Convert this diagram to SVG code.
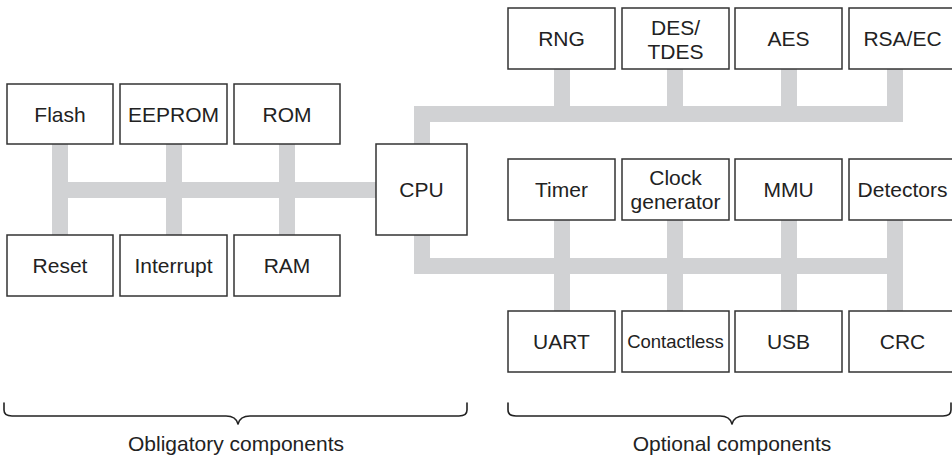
<svg xmlns="http://www.w3.org/2000/svg" width="952" height="461" viewBox="0 0 952 461">
<style>
  .bus{fill:none;stroke:#d1d2d4;stroke-width:16;stroke-linejoin:miter;stroke-linecap:butt}
  .box{fill:#fff;stroke:#333;stroke-width:1.5}
  .lbl{font-family:"Liberation Sans",Arial,sans-serif;font-size:21px;fill:#222;text-anchor:middle}
  .small{font-size:18.5px}
  .brace{fill:none;stroke:#222;stroke-width:1.6;stroke-linejoin:round;stroke-linecap:round}
</style>
<rect width="952" height="461" fill="#fff"/>
<g id="connectors">
  <path class="bus" d="M52,190 H376"/>
  <path class="bus" d="M60,144 V235 M174,144 V235 M287,144 V235"/>
  <path class="bus" d="M422,144 V114 H903"/>
  <path class="bus" d="M562,69 V114 M675,69 V114 M789,69 V114 M895,69 V114"/>
  <path class="bus" d="M422,235 V266 H903"/>
  <path class="bus" d="M562,220 V311 M675,220 V311 M789,220 V311 M895,220 V311"/>
</g>
<g id="flash"><rect class="box" x="7" y="84" width="106" height="60"/><text class="lbl" x="60" y="121.5">Flash</text></g>
<g id="eeprom"><rect class="box" x="120" y="84" width="107" height="60"/><text class="lbl" x="173.5" y="121.5">EEPROM</text></g>
<g id="rom"><rect class="box" x="234" y="84" width="106" height="60"/><text class="lbl" x="287" y="121.5">ROM</text></g>
<g id="reset"><rect class="box" x="7" y="235" width="106" height="61"/><text class="lbl" x="60" y="273">Reset</text></g>
<g id="interrupt"><rect class="box" x="120" y="235" width="107" height="61"/><text class="lbl" x="173.5" y="273">Interrupt</text></g>
<g id="ram"><rect class="box" x="234" y="235" width="106" height="61"/><text class="lbl" x="287" y="273">RAM</text></g>
<g id="cpu"><rect class="box" x="376" y="144" width="91" height="91"/><text class="lbl" x="421.5" y="197">CPU</text></g>
<g id="rng"><rect class="box" x="508" y="8" width="107" height="61"/><text class="lbl" x="561.5" y="46">RNG</text></g>
<g id="des"><rect class="box" x="622" y="8" width="107" height="61"/><text class="lbl" x="675.5" y="35">DES/</text><text class="lbl" x="675.5" y="59">TDES</text></g>
<g id="aes"><rect class="box" x="735" y="8" width="107" height="61"/><text class="lbl" x="788.5" y="46">AES</text></g>
<g id="rsa"><rect class="box" x="849" y="8" width="107" height="61"/><text class="lbl" x="902.5" y="46">RSA/EC</text></g>
<g id="timer"><rect class="box" x="508" y="159" width="107" height="61"/><text class="lbl" x="561.5" y="197">Timer</text></g>
<g id="clock"><rect class="box" x="622" y="159" width="107" height="61"/><text class="lbl" x="675.5" y="185">Clock</text><text class="lbl" x="675.5" y="209">generator</text></g>
<g id="mmu"><rect class="box" x="735" y="159" width="107" height="61"/><text class="lbl" x="788.5" y="197">MMU</text></g>
<g id="detectors"><rect class="box" x="849" y="159" width="107" height="61"/><text class="lbl" x="902.5" y="197">Detectors</text></g>
<g id="uart"><rect class="box" x="508" y="311" width="107" height="61"/><text class="lbl" x="561.5" y="349">UART</text></g>
<g id="contactless"><rect class="box" x="622" y="311" width="107" height="61"/><text class="lbl small" x="675.5" y="348">Contactless</text></g>
<g id="usb"><rect class="box" x="735" y="311" width="107" height="61"/><text class="lbl" x="788.5" y="349">USB</text></g>
<g id="crc"><rect class="box" x="849" y="311" width="107" height="61"/><text class="lbl" x="902.5" y="349">CRC</text></g>
<g id="obligatory">
  <path class="brace" d="M4,403 V410 Q4,416 12,416 H226 Q236,416 238,424 Q240,416 250,416 H459 Q467,416 467,410 V403"/>
  <text class="lbl" x="236" y="451">Obligatory components</text>
</g>
<g id="optional">
  <path class="brace" d="M508,403 V410 Q508,416 516,416 H720 Q730,416 732,424 Q734,416 744,416 H943 Q951,416 951,410 V403"/>
  <text class="lbl" x="732" y="451">Optional components</text>
</g>
</svg>
